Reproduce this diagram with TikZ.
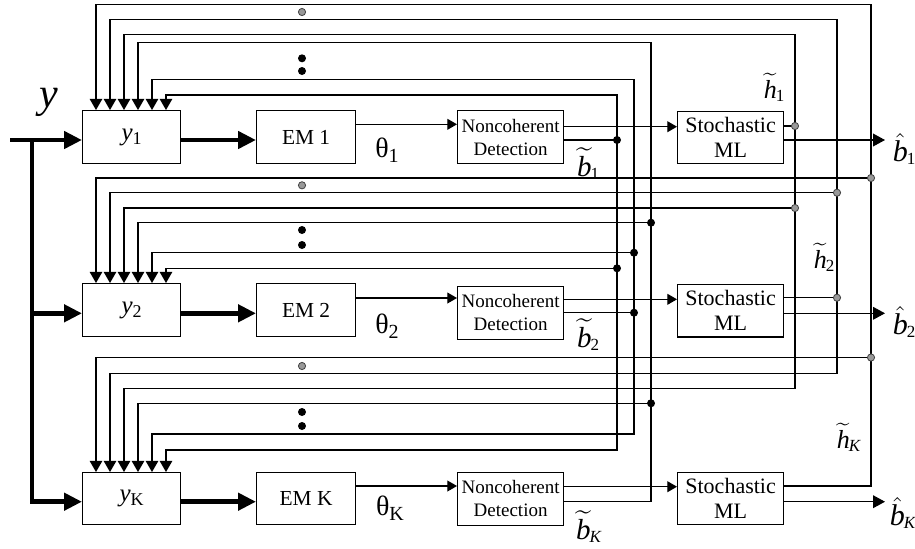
\documentclass[tikz,border=0pt]{standalone}
\usepackage{amsmath}
\usepackage{fontspec}
\setmainfont{Liberation Serif}
\usetikzlibrary{arrows.meta}
\newcommand{\sbs}[2][9]{\raisebox{-0.35ex}{\fontsize{#1}{#1}\selectfont #2}}
\newcommand{\tlab}[2]{$\widetilde{\textit{#1}}$\kern-0.5pt\raisebox{-0.25ex}{\fontsize{8.5}{8.5}\selectfont #2}}
\newcommand{\hlab}[2]{$\hat{\textit{#1}}$\kern-0.5pt\raisebox{-0.25ex}{\fontsize{8.5}{8.5}\selectfont #2}}
\begin{document}
\begin{tikzpicture}[x=0.5pt,y=-0.5pt,
  box/.style={draw, line width=0.6pt, inner sep=0pt, anchor=north west, align=center},
  ybox/.style={box, minimum width=49pt, minimum height=26.5pt, font=\fontsize{12.5}{14}\selectfont},
  embox/.style={box, minimum width=49.5pt, minimum height=26.5pt, font=\fontsize{10.7}{13}\selectfont},
  ncbox/.style={box, minimum width=53pt, minimum height=26.5pt, font=\fontsize{9.5}{11.5}\selectfont},
  smlbox/.style={box, minimum width=53pt, minimum height=26.2pt, font=\fontsize{11}{12.5}\selectfont},
  thin/.style={line width=0.55pt},
  thk/.style={line width=2.4pt},
  fbarrow/.style={thin, -{Triangle[length=5.6pt,width=6.3pt]}},
  fbboth/.style={thin, {Triangle[length=5.6pt,width=6.3pt]}-{Triangle[length=5.6pt,width=6.3pt]}},
  fbstart/.style={thin, {Triangle[length=5.6pt,width=6.3pt]}-},
  sarrow/.style={thin, -{Triangle[length=4.8pt,width=5.4pt]}},
  oarrow/.style={thin, -{Triangle[length=6pt,width=6.4pt]}},
  barrow/.style={thk, -{Triangle[length=9pt,width=8.5pt]}},
  bdot/.style={circle, fill=black, inner sep=0pt, minimum size=4pt},
  gdot/.style={circle, fill=black!40, draw=black!75, line width=0.4pt, inner sep=0pt, minimum size=3.6pt},
  lab/.style={inner sep=0pt},
]
\useasboundingbox (0,0) rectangle (915,548);

% ---------- boxes ----------
\node[ybox] (y1) at (82,110) {\textit{y}\sbs{1}};
\node[embox] (em1) at (256,110) {EM 1};
\node[ncbox] (nc1) at (457,110) {Noncoherent\\Detection};
\node[smlbox] (sml1) at (677,110.5) {Stochastic\\ML};

\node[ybox] (y2) at (82,283) {\textit{y}\sbs{2}};
\node[embox] (em2) at (256,283) {EM 2};
\node[ncbox] (nc2) at (457,285.5) {Noncoherent\\Detection};
\node[smlbox] (sml2) at (677,284) {Stochastic\\ML};

\node[ybox, minimum height=26pt] (yk) at (82,472) {\textit{y}\sbs{K}};
\node[embox, minimum height=26pt] (emk) at (256,472) {EM K};
\node[ncbox] (nck) at (457,471.5) {Noncoherent\\Detection};
\node[smlbox, minimum height=26pt] (smlk) at (677,472) {Stochastic\\ML};

% ---------- input bus ----------
\coordinate (yin) at (10,140);
\coordinate (bus1) at (32,140);
\coordinate (bus2) at (32,313.3);
\coordinate (bus3) at (32,501.7);
\draw[barrow] (yin) -- (y1.west |- yin);
\draw[barrow] (bus1) |- (yk.west |- bus3);
\draw[barrow] (bus2) -- (y2.west |- bus2);

% ---------- y -> EM ----------
\draw[barrow] (y1.east |- 0,140) -- (em1.west |- 0,140);
\draw[barrow] (y2.east |- 0,313.3) -- (em2.west |- 0,313.3);
\draw[barrow] (yk.east |- 0,501.7) -- (emk.west |- 0,501.7);

% ---------- EM -> NC ----------
\draw[sarrow] (em1.east |- 0,124.3) -- (nc1.west |- 0,124.3);
\draw[sarrow] (em2.east |- 0,298) -- (nc2.west |- 0,298);
\draw[sarrow] (emk.east |- 0,486) -- (nck.west |- 0,486);

% ---------- NC -> SML ----------
\draw[sarrow] (nc1.east |- 0,126.7) -- (sml1.west |- 0,126.7);
\draw[sarrow] (nc2.east |- 0,299.3) -- (sml2.west |- 0,299.3);
\draw[sarrow] (nck.east |- 0,486.7) -- (smlk.west |- 0,486.7);

% ---------- SML -> outputs ----------
\coordinate (out1) at (885,140);
\coordinate (out2) at (885,313.3);
\coordinate (outk) at (885,501.7);
\draw[oarrow] (sml1.east |- out1) -- (out1);
\draw[oarrow] (sml2.east |- out2) -- (out2);
\draw[oarrow] (smlk.east |- outk) -- (outk);

% ---------- junction coordinates ----------
\coordinate (ob1) at (617,140);
\coordinate (ob2) at (634,312.7);
\coordinate (obk) at (651,501.7);
\coordinate (oh1) at (795,126);
\coordinate (oh2) at (837,297.7);
\coordinate (ohk) at (871,486);
\draw[thin] (nc1.east |- ob1) -- (ob1);
\draw[thin] (nc2.east |- ob2) -- (ob2);
\draw[thin] (sml1.east |- oh1) -- (oh1);
\draw[thin] (sml2.east |- oh2) -- (oh2);

\foreach \i/\x/\c/\ya/\yb/\yc in {1/96/871/4.7/178/357.5, 2/110/837/19.3/192.7/373.3, 3/124/795/34.3/208/388.3, 4/138/651/42.3/222.7/403.3, 5/152/634/79.3/252.7/434, 6/166/617/95/268.3/450}{
  \coordinate (inA\i) at (\x,110);
  \coordinate (inB\i) at (\x,283);
  \coordinate (inC\i) at (\x,472);
  \coordinate (jA\i) at (\c,\ya);
  \coordinate (jB\i) at (\c,\yb);
  \coordinate (jC\i) at (\c,\yc);
}

% ---------- feedback columns ----------
\foreach \i in {2,3,5,6} \draw[fbboth] (inA\i) |- (jA\i) -- (jC\i) -| (inC\i);
\draw[fbstart] (inA1) |- (jA1) |- (smlk.east |- ohk);
\draw[fbstart] (inA4) |- (jA4) |- (nck.east |- obk);
\foreach \i in {1,...,6} \draw[fbarrow] (jB\i) -| (inB\i);
\foreach \i in {1,4} \draw[fbarrow] (jC\i) -| (inC\i);

% ---------- dots ----------
\foreach \n in {jB1,jB2,jB3,jC1,oh1,oh2} \node[gdot] at (\n) {};
\foreach \n in {jB4,jB5,jB6,jC4,ob1,ob2} \node[bdot] at (\n) {};
\node[gdot] (g1) at (302,12) {};
\node[gdot] (g2) at (302,185.3) {};
\node[gdot] (g3) at (302,366) {};
\node[bdot] (d1) at (302,58.3) {};
\node[bdot] (d2) at (302,71) {};
\node[bdot] (d3) at (302,230) {};
\node[bdot] (d4) at (302,245) {};
\node[bdot] (d5) at (302,412) {};
\node[bdot] (d6) at (302,426) {};

% ---------- labels ----------
\node[lab, font=\fontsize{21}{21}\selectfont\itshape] (ylab) at (49,102) {y};
\node[lab, font=\fontsize{14}{14}\selectfont] (th1) at (387,150) {θ\sbs[10]{1}};
\node[lab, font=\fontsize{14}{14}\selectfont] (th2) at (387,326) {θ\sbs[10]{2}};
\node[lab, font=\fontsize{14}{14}\selectfont] (thk) at (390,508) {θ\sbs[10]{K}};

\node[lab, font=\fontsize{13}{13}\selectfont] (ht1) at (774,87) {\tlab{h}{1}};
\node[lab, font=\fontsize{13}{13}\selectfont] (ht2) at (824,257) {\tlab{h}{2}};
\node[lab, font=\fontsize{13}{13}\selectfont] (htk) at (849,437) {\tlab{h}{\textit{K}}};

\node[lab, font=\fontsize{14.5}{14.5}\selectfont] (bt1) at (588,164) {\tlab{b}{1}};
\node[lab, font=\fontsize{14.5}{14.5}\selectfont] (bt2) at (588,335) {\tlab{b}{2}};
\node[lab, font=\fontsize{14.5}{14.5}\selectfont] (btk) at (589,527) {\tlab{b}{\textit{K}}};

\node[lab, font=\fontsize{15}{15}\selectfont] (bh1) at (904,149) {\hlab{b}{1}};
\node[lab, font=\fontsize{15}{15}\selectfont] (bh2) at (904,322) {\hlab{b}{2}};
\node[lab, font=\fontsize{15}{15}\selectfont] (bhk) at (903,513) {\hlab{b}{\textit{K}}};
\end{tikzpicture}
\end{document}
